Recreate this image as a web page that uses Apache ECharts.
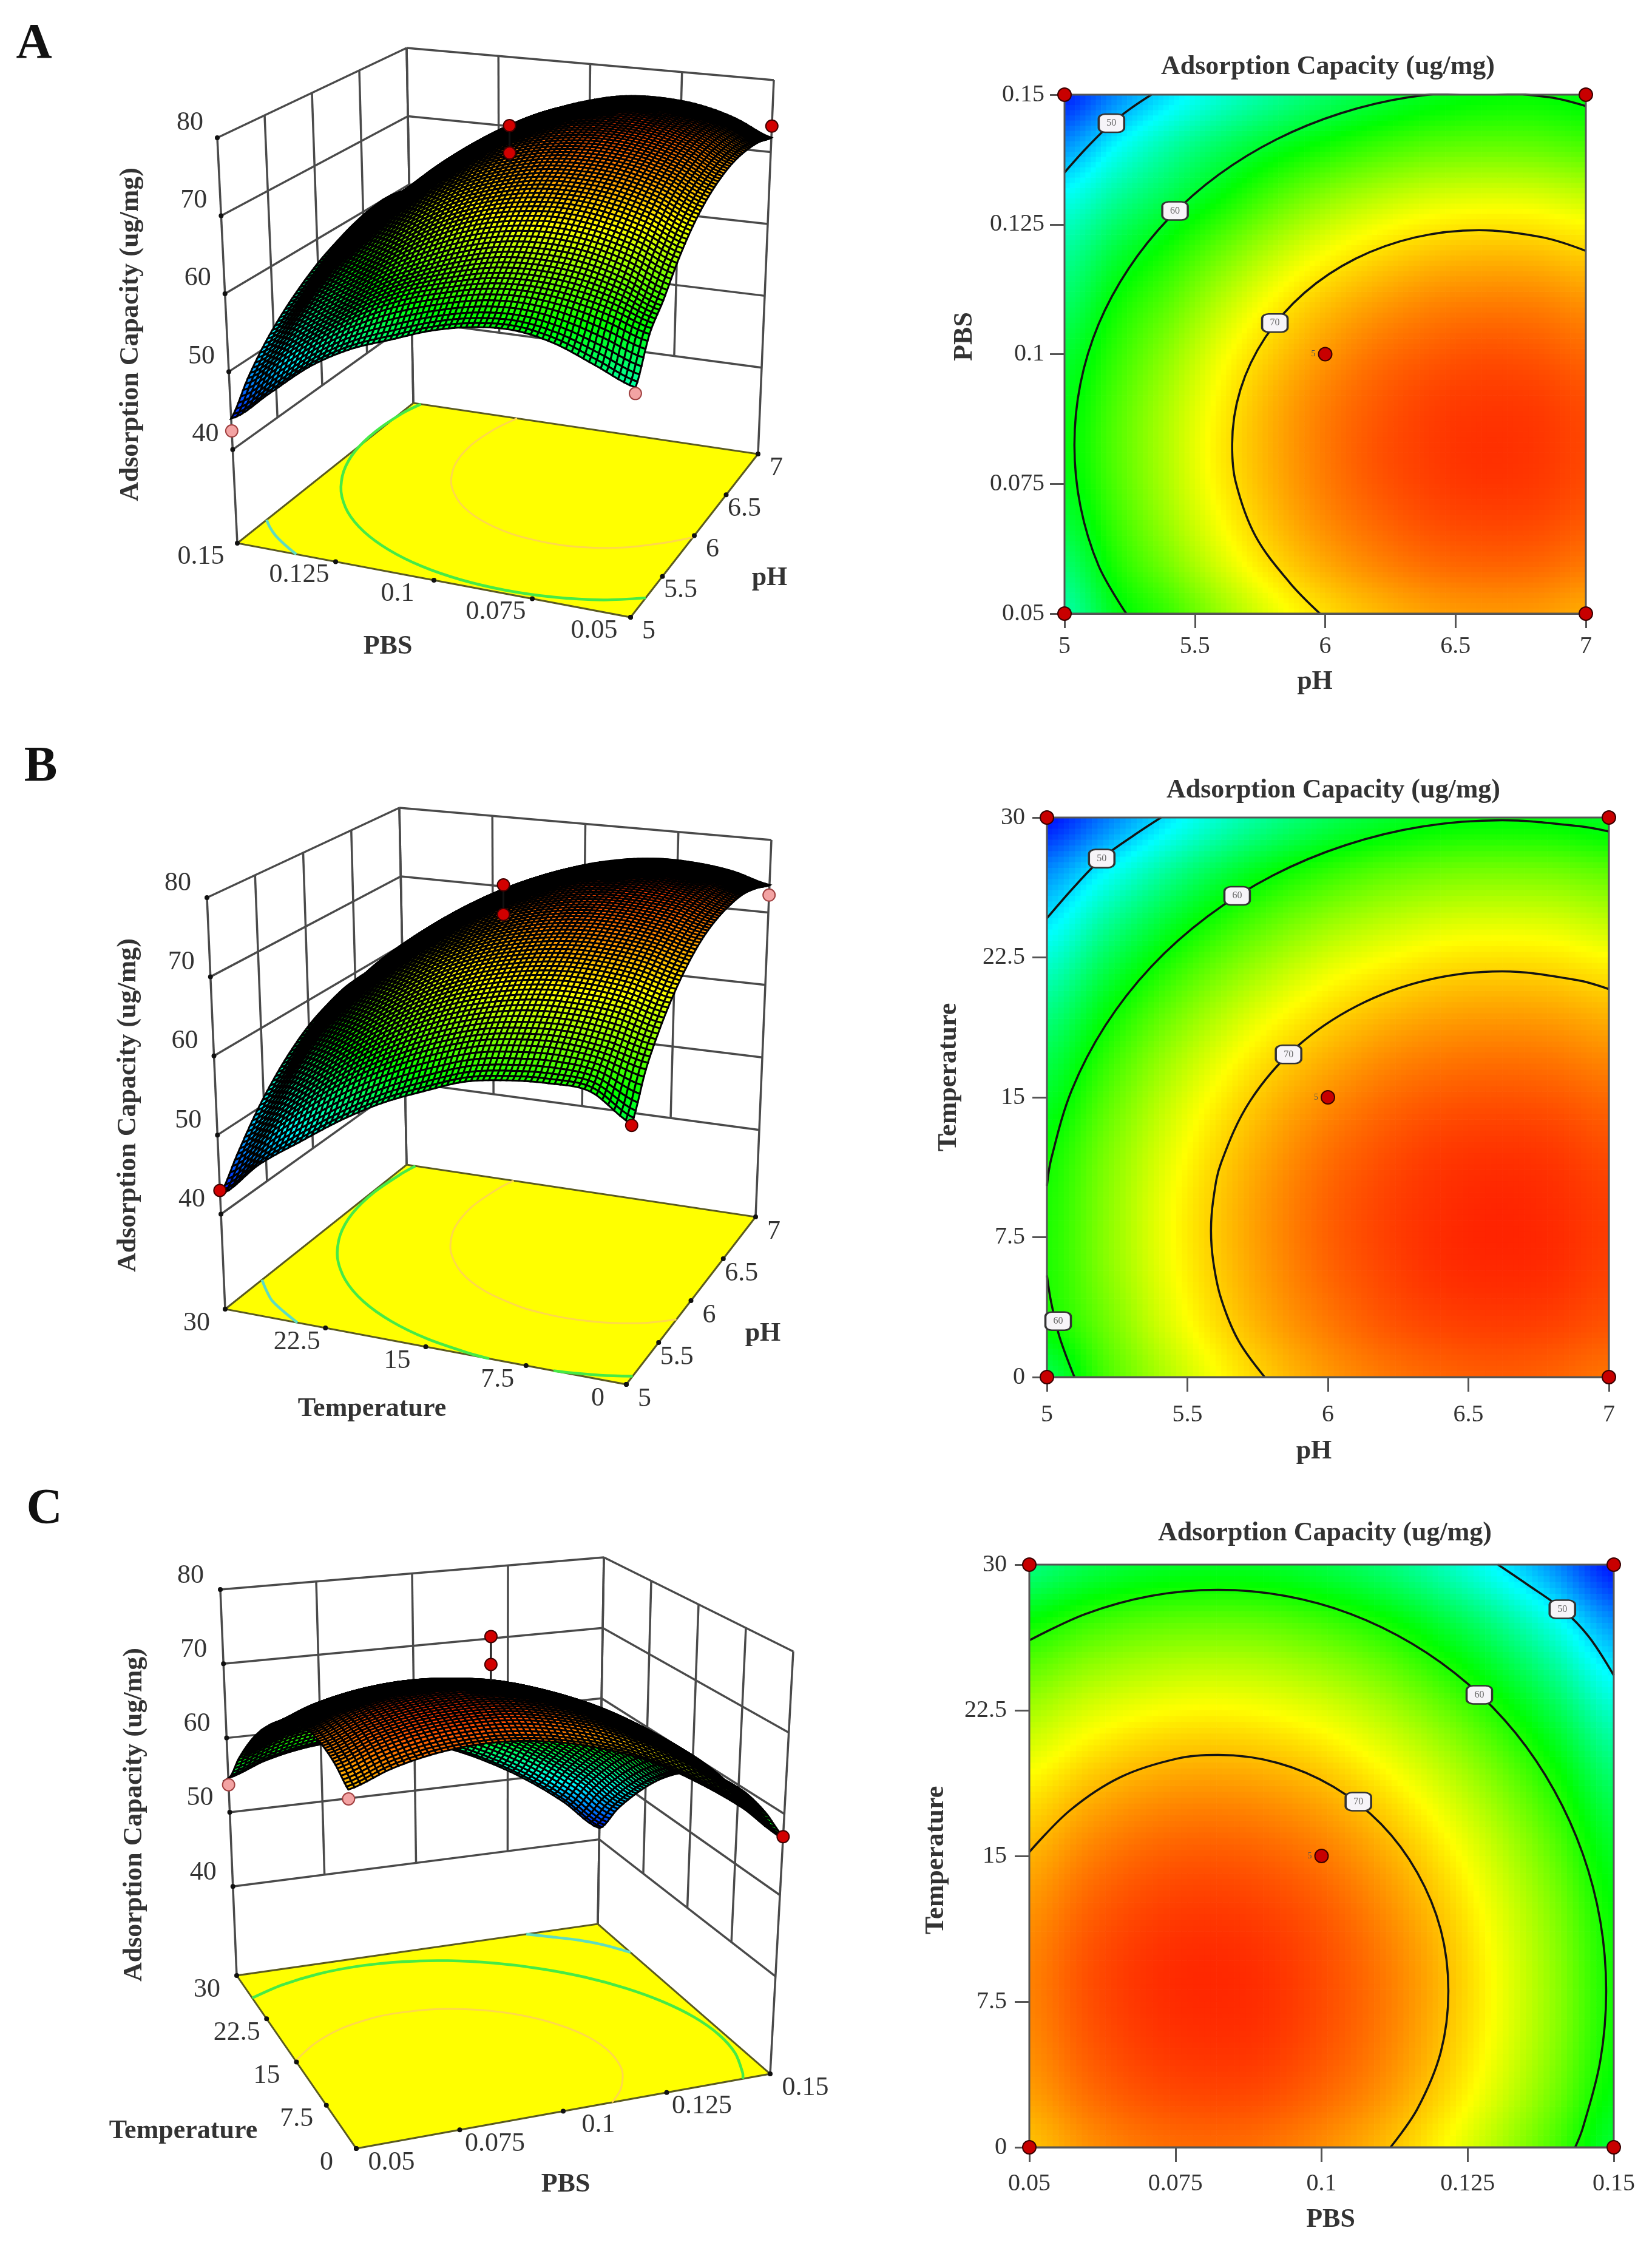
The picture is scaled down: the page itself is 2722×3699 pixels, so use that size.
<!DOCTYPE html>
<html><head><meta charset="utf-8">
<style>html,body{margin:0;padding:0;background:#fff}#c{width:2722px;height:3699px}</style>
<script src="https://cdn.jsdelivr.net/npm/echarts@6/dist/echarts.min.js"></script>
</head><body><div id="c"></div>
<script>
// ---------- values ----------
const zTicks = [40, 50, 60, 70, 80];
const phTicks = [5, 5.5, 6, 6.5, 7];
const pbsTicks = [0.05, 0.075, 0.1, 0.125, 0.15];
const tempTicks = [0, 7.5, 15, 22.5, 30];

const phGrid = [5, 5.2, 5.4, 5.6, 5.8, 6, 6.2, 6.4, 6.6, 6.8, 7];
const pbsGrid = [0.05, 0.06, 0.07, 0.08, 0.09, 0.1, 0.11, 0.12, 0.13, 0.14, 0.15];
const tempGrid = [0, 3, 6, 9, 12, 15, 18, 21, 24, 27, 30];

// rows run along the y factor (low to high), columns along the x factor
const capacityA = [
 [54.5,59.3,61.9,65.1,67.8,69.9,71.4,72.4,72.8,72.7,72.0],
 [56.5,61.0,64.1,67.3,70.0,72.1,73.6,74.6,75.0,74.9,74.2],
 [58.5,62.2,65.5,68.7,71.4,73.5,75.0,76.0,76.4,76.3,75.6],
 [59.5,62.8,66.0,69.3,71.9,74.0,75.6,76.5,77.0,76.8,76.1],
 [59.3,62.6,65.8,69.0,71.7,73.8,75.3,76.3,76.7,76.6,75.9],
 [58.3,61.6,64.7,68.0,70.6,72.7,74.3,75.2,75.7,75.5,74.8],
 [56.6,60.2,62.9,66.1,68.8,70.9,72.4,73.4,73.8,73.7,73.0],
 [54.8,58.0,60.6,63.4,66.1,68.2,69.7,70.7,71.1,71.0,70.3],
 [52.0,55.0,57.5,60.0,62.6,64.7,66.2,67.2,67.6,67.5,66.8],
 [48.0,51.5,54.5,56.9,58.9,60.5,61.9,62.9,63.3,63.2,62.5],
 [44.0,47.6,50.6,53.0,55.0,56.7,58.0,59.1,59.8,60.0,59.4]
];
const capacityB = [
 [56.8,61.6,65.1,68.0,70.4,72.3,73.6,74.4,74.8,74.5,73.8],
 [59.9,63.0,66.5,69.4,71.8,73.6,75.0,75.8,76.1,75.9,75.2],
 [60.4,63.8,67.2,70.1,72.5,74.4,75.7,76.6,76.9,76.7,75.9],
 [60.3,63.8,67.3,70.2,72.6,74.5,75.8,76.6,77.0,76.7,76.0],
 [59.7,63.3,66.7,69.6,72.0,73.9,75.2,76.1,76.4,76.2,75.4],
 [58.1,62.0,65.5,68.4,70.8,72.6,74.0,74.8,75.1,74.9,74.2],
 [56.2,60.1,63.6,66.5,68.9,70.7,72.1,72.9,73.2,73.0,72.3],
 [53.6,57.6,61.0,63.9,66.3,68.2,69.5,70.4,70.7,70.5,69.8],
 [50.4,54.4,57.8,60.7,63.1,65.0,66.3,67.2,67.5,67.3,66.5],
 [47.0,50.5,53.9,56.9,59.3,61.1,62.5,63.3,63.6,63.4,62.7],
 [42.5,46.0,49.4,52.3,54.7,56.6,57.9,58.8,59.1,58.9,58.2]
];
const capacityC = [
 [70.3,72.1,73.2,73.6,73.3,72.3,70.7,68.4,65.3,61.6,57.2],
 [71.7,73.5,74.6,75.0,74.8,73.8,72.2,69.8,66.8,63.1,58.7],
 [72.5,74.3,75.4,75.8,75.6,74.6,73.0,70.6,67.6,63.9,59.5],
 [72.7,74.5,75.6,76.0,75.7,74.7,73.1,70.8,67.7,64.0,59.6],
 [72.1,73.9,75.0,75.4,75.1,74.2,72.5,70.2,67.2,63.5,59.1],
 [70.9,72.7,73.8,74.2,73.9,73.0,71.3,69.0,66.0,62.3,57.9],
 [69.0,70.8,71.9,72.3,72.0,71.1,69.4,67.1,64.1,60.4,56.0],
 [66.4,68.2,69.3,69.7,69.4,68.5,66.8,64.5,61.5,57.8,53.4],
 [63.2,65.0,66.0,66.5,66.2,65.2,63.6,61.2,58.2,54.5,50.1],
 [59.2,61.0,62.1,62.5,62.3,61.3,59.7,57.3,54.3,50.6,46.2],
 [54.6,56.4,57.5,57.9,57.7,56.7,55.1,52.7,49.7,46.0,41.6]
];

// contour lines: [x factor, y factor]
const contoursA = [
 {level:50, pts:[[5,.135],[5.08,.1395],[5.17,.144],[5.25,.1472],[5.333,.15]]},
 {level:60, pts:[[5.237,.05],[5.131,.0592],[5.061,.0707],[5.038,.0825],[5.061,.0943],[5.131,.1058],[5.246,.1165],[5.401,.1262],[5.592,.1346],[5.814,.1414],[6.059,.1464],[6.32,.1495],[6.59,.1505],[6.86,.1495],[7,.1478]]},
 {level:70, pts:[[5.98,.05],[5.865,.0559],[5.732,.065],[5.657,.0753],[5.643,.0825],[5.675,.0932],[5.77,.1032],[5.92,.1118],[6.117,.1184],[6.345,.1225],[6.59,.1239],[6.835,.1225],[7,.1199]]}
];
const contoursB = [
 {level:50, pts:[[5,24.6],[5.1,26.33],[5.195,27.8],[5.305,29],[5.406,30]]},
 {level:60, pts:[[5,10.25],[5.015,11.68],[5.088,15.37],[5.208,18.85],[5.371,22],[5.572,24.7],[5.805,26.9],[6.063,28.52],[6.337,29.52],[6.62,29.85],[6.903,29.52],[7,29.25]]},
 {level:60, pts:[[5,5.45],[5.015,4.02],[5.045,2.15],[5.098,0]]},
 {level:70, pts:[[5.775,0],[5.681,1.97],[5.619,4.25],[5.592,6.2],[5.584,7.85],[5.592,9.5],[5.619,11.45],[5.723,14.8],[5.887,17.68],[6.102,19.89],[6.352,21.28],[6.62,21.75],[6.888,21.28],[7,20.8]]}
];
const contoursC = [
 {level:50, pts:[[.1302,30],[.1351,29],[.1412,27.7],[.1457,26.3],[.15,24.3]]},
 {level:60, pts:[[.05,26.1],[.0596,27.46],[.0708,28.39],[.0823,28.7],[.0938,28.39],[.105,27.46],[.1155,25.93],[.125,23.87],[.1332,21.33],[.1398,18.38],[.1447,15.11],[.1477,11.64],[.1487,8.05],[.1477,4.46],[.1447,.99],[.1434,0]]},
 {level:70, pts:[[.05,15.2],[.057,17.36],[.0656,19.06],[.0754,20.02],[.0823,20.2],[.0925,19.79],[.102,18.57],[.1102,16.64],[.1164,14.13],[.1204,11.2],[.1217,8.05],[.1204,4.9],[.1164,1.98],[.1118,0]]}
];
const tagsA = [[5.18,.1445,'50'],[5.424,.1276,'60'],[5.807,.106,'70']];
const tagsB = [[5.195,27.8,'50'],[5.677,25.8,'60'],[5.04,3,'60'],[5.86,17.3,'70']];
const tagsC = [[.1412,27.7,'50'],[.127,23.3,'60'],[.1063,17.8,'70']];

// design points: [x factor, y factor]
const designA = [[5,.05],[7,.05],[5,.15],[7,.15],[6,.1]];
const designB = [[5,0],[7,0],[5,30],[7,30],[6,15]];
const designC = [[.05,0],[.15,0],[.05,30],[.15,30],[.1,15]];
// points seen in the 3D views: [x factor, y factor, capacity, below surface?]
const points3dA = [[6,.1,77.7,0],[6,.1,74.1,0],[7,.05,73.6,0],[5,.15,42.4,1],[5,.05,53.8,1]];
const points3dB = [[6,15,77.4,0],[6,15,73.6,0],[7,0,72.4,1],[5,30,43,0],[5,0,56.6,0]];
const points3dC = [[.1,15,78.7,0],[.1,15,75.1,0],[.15,0,57.2,0],[.05,30,53.7,1],[.05,0,69.2,1]];

// ---------- layout and style ----------
const SERIF = '"Liberation Serif"';
const TXT = '#333';
const panels = [
 {name:'A', xName:'pH', yName:'PBS', xs:phGrid, ys:pbsGrid, rows:capacityA, contours:contoursA, tags:tagsA, design:designA, pts3d:points3dA,
  xTicks:phTicks, yTicks:pbsTicks, xInt:.5, yInt:.025, xMin:5, xMax:7, yMin:.05, yMax:.15,
  ramp:[43,51.5,60,68.5,79],
  plot:{l:1754,r:2613,t:156,b:1011}, title:[2188,111], xGap:91, yGap:142, xMargin:34, yMargin:33, xPad:[0,34,0,0], yPad:[0,0,0,58],
  front:[[1039,1017],[1055,274]], right:[[1249,748],[1275,132]], left:[[391,895],[358,227]], back:[[681,664],[670,79]],
  zOff:[-45,-25], xOff:[30,23], yOff:[-60,22],
  zTitle:[216,551], yFloorTitle:[639,1066], xFloorTitle:[1268,953], letter:[56,74]},
 {name:'B', xName:'pH', yName:'Temperature', xs:phGrid, ys:tempGrid, rows:capacityB, contours:contoursB, tags:tagsB, design:designB, pts3d:points3dB,
  xTicks:phTicks, yTicks:tempTicks, xInt:.5, yInt:7.5, xMin:5, xMax:7, yMin:0, yMax:30,
  ramp:[42,50.7,59.4,68.1,78.5],
  plot:{l:1725,r:2651,t:1347,b:2269}, title:[2197,1303], xGap:101, yGap:139, xMargin:42, yMargin:36, xPad:[0,46,0,0], yPad:[0,0,0,66],
  front:[[1032,2281],[1048,1505]], right:[[1245,2005],[1271,1384]], left:[[371,2157],[341,1479]], back:[[670,1919],[658,1331]],
  zOff:[-48,-24], xOff:[30,24], yOff:[-47,23],
  zTitle:[212,1821], yFloorTitle:[613,2322], xFloorTitle:[1257,2198], letter:[67,1265]},
 {name:'C', xName:'PBS', yName:'Temperature', xs:pbsGrid, ys:tempGrid, rows:capacityC, contours:contoursC, tags:tagsC, design:designC, pts3d:points3dC,
  xTicks:pbsTicks, yTicks:tempTicks, xInt:.025, yInt:7.5, xMin:.05, xMax:.15, yMin:0, yMax:30,
  ramp:[41,50,59,68,77.5],
  plot:{l:1696,r:2659,t:2578,b:3538}, title:[2183,2527], xGap:98, yGap:131, xMargin:40, yMargin:37, xPad:[0,0,0,30], yPad:[0,14,0,0],
  front:[[587,3540],[571,2813]], right:[[1269,3417],[1307,2721]], left:[[390,3255],[363,2619]], back:[[985,3170],[995,2566]],
  zOff:[-49,-23], xOff:[58,23], yOff:[-49,23],
  zTitle:[222,2990], yFloorTitle:[302,3512], xFloorTitle:[932,3600], letter:[73,2488]}
];
const Z_FLOOR = 28, Z_TOP = 80;
const RAMP_COLORS = [[0,0,255],[0,255,255],[0,255,0],[255,255,0],[255,0,0]];
const FLOOR_LINE = {50:'#5fdcc0', 60:'#46ea46', 70:'#ffd84a'};

// ---------- helpers ----------
function rampColor(stops, v){
  let k = 0;
  while (k < stops.length-2 && v > stops[k+1]) k++;
  const t = Math.max(0, Math.min(1, (v-stops[k])/(stops[k+1]-stops[k])));
  const a = RAMP_COLORS[k], b = RAMP_COLORS[k+1];
  return 'rgb('+[0,1,2].map(i=>Math.round(a[i]+(b[i]-a[i])*t)).join(',')+')';
}
function cr(a,b,c,d,t){ return b+.5*t*(c-a+t*(2*a-5*b+4*c-d+t*(3*(b-c)+d-a))); }
// smooth shading between the read grid values
function shade(rows, gx, gy){
  const n = rows[0].length, m = rows.length;
  const ix = Math.min(n-2, Math.floor(gx)), iy = Math.min(m-2, Math.floor(gy));
  const tx = gx-ix, ty = gy-iy;
  const col = [];
  for (let j=-1;j<=2;j++){
    const r = rows[Math.max(0,Math.min(m-1,iy+j))];
    const g = k => r[Math.max(0,Math.min(n-1,k))];
    col.push(cr(g(ix-1),g(ix),g(ix+1),g(ix+2),tx));
  }
  return cr(col[0],col[1],col[2],col[3],ty);
}
function project(p,u,v,z){
  const w = (z-Z_FLOOR)/(Z_TOP-Z_FLOOR), out=[0,0];
  for (let a=0;a<2;a++){
    const at = s => (1-u)*(1-v)*p.front[s][a]+u*(1-v)*p.right[s][a]+(1-u)*v*p.left[s][a]+u*v*p.back[s][a];
    out[a] = at(0)+(at(1)-at(0))*w;
  }
  return out;
}
const U = (p,x)=>(x-p.xMin)/(p.xMax-p.xMin), V = (p,y)=>(y-p.yMin)/(p.yMax-p.yMin);
const px = (api,q)=>api.coord(q);
function text(api,q,str,font,extra){
  const c = px(api,q);
  return Object.assign({type:'text',x:c[0],y:c[1],style:{text:str,x:0,y:0,fill:TXT,font:font,align:'center',verticalAlign:'middle'}},extra||{});
}

// ---------- option ----------
const grids=[], xAxes=[], yAxes=[], titles=[], series=[];
panels.forEach((p,idx)=>{
  grids.push({left:p.plot.l, top:p.plot.t, width:p.plot.r-p.plot.l, height:p.plot.b-p.plot.t, show:false});
  const axisCommon = {type:'value', gridIndex:idx, nameLocation:'middle',
    axisLine:{show:true,onZero:false,lineStyle:{color:'#555',width:3}},
    axisTick:{show:true,length:24,lineStyle:{color:'#555',width:3}},
    splitLine:{show:false}};
  const nameStyle = pad => ({fontFamily:SERIF,fontWeight:'bold',fontSize:44,color:TXT,padding:pad});
  xAxes.push(Object.assign({},axisCommon,{name:p.xName,nameGap:p.xGap,nameTextStyle:nameStyle(p.xPad),min:p.xMin,max:p.xMax,interval:p.xInt,
    axisLabel:{fontFamily:SERIF,fontSize:40,color:TXT,margin:p.xMargin,hideOverlap:false,showMinLabel:true,showMaxLabel:true}}));
  yAxes.push(Object.assign({},axisCommon,{name:p.yName,nameGap:p.yGap,nameTextStyle:nameStyle(p.yPad),min:p.yMin,max:p.yMax,interval:p.yInt,
    axisLabel:{fontFamily:SERIF,fontSize:40,color:TXT,margin:p.yMargin,hideOverlap:false,showMinLabel:true,showMaxLabel:true}}));
  titles.push({text:'Adsorption Capacity (ug/mg)',left:p.title[0],top:p.title[1],textAlign:'center',textVerticalAlign:'middle',padding:0,
    textStyle:{fontFamily:SERIF,fontWeight:'bold',fontSize:44,color:TXT}});
  titles.push({text:p.name,left:p.letter[0],top:p.letter[1],textAlign:'center',textVerticalAlign:'middle',padding:0,
    textStyle:{fontFamily:SERIF,fontWeight:'bold',fontSize:82,color:'#111'}});

  // contour plot: shaded field
  const cells=[];
  p.rows.forEach((row,j)=>row.forEach((val,i)=>cells.push([p.xs[i],p.ys[j],val,i,j])));
  const SUB=10, n=p.xs.length;
  series.push({type:'custom',name:'field '+p.name,xAxisIndex:idx,yAxisIndex:idx,z:1,silent:true,data:cells,encode:{x:0,y:1},
    renderItem(params,api){
      const i=api.value(3), j=api.value(4);
      if(i>=n-1||j>=n-1) return null;
      const x0=p.xs[i],x1=p.xs[i+1],y0=p.ys[j],y1=p.ys[j+1],kids=[];
      for(let s=0;s<SUB;s++)for(let t=0;t<SUB;t++){
        const a=api.coord([x0+(x1-x0)*s/SUB,y0+(y1-y0)*t/SUB]);
        const b=api.coord([x0+(x1-x0)*(s+1)/SUB,y0+(y1-y0)*(t+1)/SUB]);
        const v=shade(p.rows,i+(s+.5)/SUB,j+(t+.5)/SUB);
        kids.push({type:'rect',shape:{x:a[0],y:b[1]-.7,width:b[0]-a[0]+.7,height:a[1]-b[1]+.7},style:{fill:rampColor(p.ramp,v)}});
      }
      return {type:'group',children:kids};
    }});
  // contour lines
  p.contours.forEach(c=>series.push({type:'line',name:'contour '+c.level,xAxisIndex:idx,yAxisIndex:idx,z:2,silent:true,
    data:c.pts,showSymbol:false,symbol:'none',smooth:.35,lineStyle:{color:'#141414',width:3.5}}));
  // frame
  series.push({type:'custom',name:'frame '+p.name,xAxisIndex:idx,yAxisIndex:idx,z:3,silent:true,clip:false,
    data:[[p.xMin,p.yMax,p.xMax,p.yMin]],encode:{x:0,y:1},
    renderItem(params,api){
      const a=api.coord([api.value(0),api.value(1)]),b=api.coord([api.value(2),api.value(3)]);
      return {type:'rect',shape:{x:a[0],y:a[1],width:b[0]-a[0],height:b[1]-a[1]},style:{fill:'none',stroke:'#555',lineWidth:3}};
    }});
  // contour tags
  series.push({type:'scatter',name:'tags '+p.name,xAxisIndex:idx,yAxisIndex:idx,z:4,silent:true,
    data:p.tags.map(t=>({value:[t[0],t[1]],label:{formatter:t[2]}})),
    symbol:'roundRect',symbolSize:[42,30],itemStyle:{color:'#f6f4f8',borderColor:'#333',borderWidth:3,opacity:1},
    label:{show:true,position:'inside',fontFamily:SERIF,fontSize:16,color:'#666'}});
  // design points
  series.push({type:'scatter',name:'design '+p.name,xAxisIndex:idx,yAxisIndex:idx,z:5,silent:true,clip:false,
    data:p.design,symbol:'circle',symbolSize:22,itemStyle:{color:'#c80000',borderColor:'#3a0000',borderWidth:2,opacity:1},
    label:{show:true,position:'left',distance:4,fontFamily:SERIF,fontSize:14,color:'#555',
      formatter:o=>(o.value[0]===p.design[4][0]&&o.value[1]===p.design[4][1])?'5':''}});
});

// overlay pixel axes used by the projected 3D views
const OV = panels.length;
grids.push({left:0,top:0,width:2722,height:3699,show:false});
xAxes.push({type:'value',gridIndex:OV,min:0,max:2722,show:false});
yAxes.push({type:'value',gridIndex:OV,min:0,max:3699,inverse:true,show:false});

panels.forEach(p=>{
  // walls, floor, floor contours, ticks
  series.push({type:'custom',name:'box '+p.name,xAxisIndex:OV,yAxisIndex:OV,z:1,silent:true,clip:false,data:[[0,0]],encode:{x:0,y:1},
    renderItem(params,api){
      const kids=[], line=(a,b,color,w)=>kids.push({type:'line',shape:{x1:a[0],y1:a[1],x2:b[0],y2:b[1]},style:{stroke:color,lineWidth:w}});
      const P=(u,v,z)=>px(api,project(p,u,v,z)), WALL='#4a4a4a';
      [0,.25,.5,.75,1].forEach(f=>{
        const end=(f===0||f===1)?Z_FLOOR:40;
        line(P(f,1,80),P(f,1,end),WALL,3.5);
        line(P(1,1-f,80),P(1,1-f,end),WALL,3.5);
      });
      zTicks.forEach(z=>{ line(P(0,1,z),P(1,1,z),WALL,3.5); line(P(1,1,z),P(1,0,z),WALL,3.5); });
      kids.push({type:'polygon',shape:{points:[P(0,0,Z_FLOOR),P(1,0,Z_FLOOR),P(1,1,Z_FLOOR),P(0,1,Z_FLOOR)]},style:{fill:'#ffff00',stroke:'#5a5a20',lineWidth:3}});
      p.contours.forEach(c=>{
        kids.push({type:'polyline',shape:{smooth:.3,points:c.pts.map(q=>P(U(p,q[0]),V(p,q[1]),Z_FLOOR))},
          style:{fill:'none',stroke:FLOOR_LINE[c.level],lineWidth:c.level===70?3:4.5}});
      });
      const dot=(q)=>kids.push({type:'circle',shape:{cx:q[0],cy:q[1],r:4},style:{fill:'#111'}});
      p.xTicks.forEach(t=>dot(P(U(p,t),0,Z_FLOOR)));
      p.yTicks.forEach(t=>dot(P(0,V(p,t),Z_FLOOR)));
      zTicks.forEach(z=>dot(P(0,1,z)));
      return {type:'group',children:kids};
    }});
  // surface, painted far to near
  const n=p.xs.length, SUB=7, order=[];
  for(let j=0;j<n-1;j++)for(let i=0;i<n-1;i++){
    const c=project(p,(i+.5)/(n-1),(j+.5)/(n-1),Z_FLOOR);
    order.push([p.xs[i],p.ys[j],p.rows[j][i],i,j,c[1]]);
  }
  order.sort((a,b)=>a[5]-b[5]);
  series.push({type:'custom',name:'surface '+p.name,xAxisIndex:OV,yAxisIndex:OV,z:2,silent:true,clip:false,progressive:0,
    data:order,encode:{},
    renderItem(params,api){
      const i=api.value(3), j=api.value(4), quads=[];
      for(let s=0;s<SUB;s++)for(let t=0;t<SUB;t++){
        const gx=i+s/SUB,gy=j+t/SUB,d=1/SUB;
        const c=(a,b)=>px(api,project(p,a/(n-1),b/(n-1),shade(p.rows,a,b)));
        const floorY=project(p,(gx+d/2)/(n-1),(gy+d/2)/(n-1),Z_FLOOR)[1];
        quads.push({floorY,el:{type:'polygon',shape:{points:[c(gx,gy),c(gx+d,gy),c(gx+d,gy+d),c(gx,gy+d)]},
          style:{fill:rampColor(p.ramp,shade(p.rows,gx+d/2,gy+d/2)),stroke:'#000',lineWidth:3}}});
      }
      quads.sort((a,b)=>a.floorY-b.floorY);
      return {type:'group',children:quads.map(q=>q.el)};
    }});
  // 3D design points
  series.push({type:'custom',name:'points '+p.name,xAxisIndex:OV,yAxisIndex:OV,z:3,silent:true,clip:false,data:p.pts3d,encode:{},
    renderItem(params,api){
      const x=api.value(0),y=api.value(1),z=api.value(2),below=api.value(3),u=U(p,x),v=V(p,y);
      const c=px(api,project(p,u,v,z)),kids=[];
      if(params.dataIndex===0){
        const s=px(api,project(p,u,v,shade(p.rows,u*(p.xs.length-1),v*(p.ys.length-1))));
        kids.push({type:'line',shape:{x1:c[0],y1:c[1],x2:s[0],y2:s[1]},style:{stroke:'#111',lineWidth:3}});
      }
      kids.push({type:'circle',shape:{cx:c[0],cy:c[1],r:10},style:{fill:below?'#f3a3a3':'#d20000',stroke:below?'#a04040':'#400000',lineWidth:2}});
      return {type:'group',children:kids};
    }});
  // 3D axis text
  series.push({type:'custom',name:'labels '+p.name,xAxisIndex:OV,yAxisIndex:OV,z:4,silent:true,clip:false,data:[[0,0]],encode:{x:0,y:1},
    renderItem(params,api){
      const kids=[],F='44px '+SERIF,B='bold 44px '+SERIF;
      const add=(q,o)=>[q[0]+o[0],q[1]+o[1]];
      zTicks.forEach(z=>kids.push(text(api,add(project(p,0,1,z),p.zOff),String(z),F)));
      p.xTicks.forEach(t=>kids.push(text(api,add(project(p,U(p,t),0,Z_FLOOR),p.xOff),String(t),F)));
      p.yTicks.forEach(t=>kids.push(text(api,add(project(p,0,V(p,t),Z_FLOOR),p.yOff),String(t),F)));
      kids.push(text(api,p.zTitle,'Adsorption Capacity (ug/mg)',B,{rotation:Math.PI/2}));
      kids.push(text(api,p.xFloorTitle,p.xName,B));
      kids.push(text(api,p.yFloorTitle,p.yName,B));
      return {type:'group',children:kids};
    }});
});

const chart = echarts.init(document.getElementById('c'),null,{renderer:'canvas',devicePixelRatio:1});
chart.setOption({animation:false,backgroundColor:'#fff',tooltip:{show:false},legend:{show:false},
  title:titles,grid:grids,xAxis:xAxes,yAxis:yAxes,series:series});
</script></body></html>
